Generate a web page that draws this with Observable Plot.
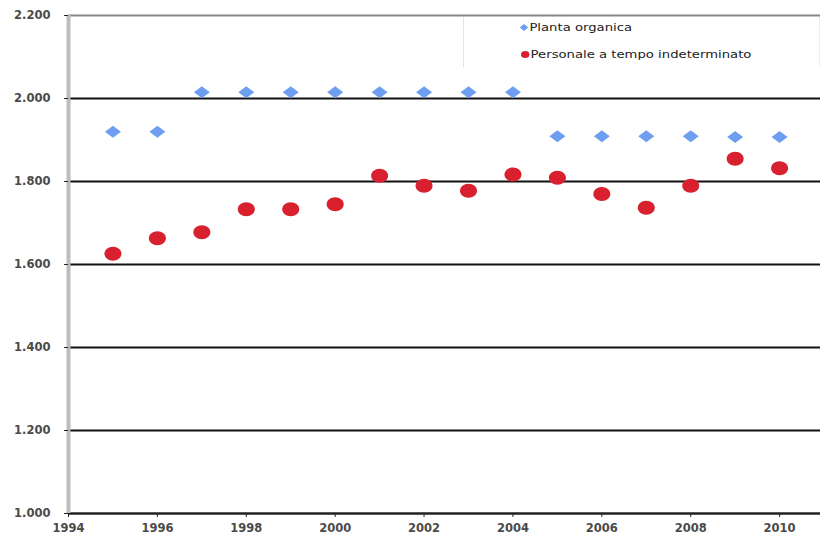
<!DOCTYPE html>
<html>
<head>
<meta charset="utf-8">
<script src="https://cdn.jsdelivr.net/npm/d3@7"></script>
<script src="https://cdn.jsdelivr.net/npm/@observablehq/plot@0.6"></script>
<style>
  html, body { margin: 0; padding: 0; background: #fff; }
  #wrap { position: relative; width: 820px; height: 539px; }
  #legend { position: absolute; left: 463px; top: 17px; width: 355px; height: 50px;
    border-left: 1px solid #e4e4e4; border-right: 1px solid #eeeeee;
    font-family: "DejaVu Sans", Verdana, sans-serif; font-size: 11px; color: #222; }
  .li { position: absolute; left: 57px; display: flex; align-items: center; transform: scaleX(1.2); transform-origin: left center; }
  .sw { display: inline-block; margin-right: 1px; }
</style>
</head>
<body>
<div id="wrap"></div>
<script>
const years = [1995,1996,1997,1998,1999,2000,2001,2002,2003,2004,2005,2006,2007,2008,2009,2010];
const piantaOrganica = [1920,1920,2015,2015,2015,2015,2015,2015,2015,2015,1909,1909,1909,1909,1907,1907];
const personale = [1626,1663,1678,1733,1733,1745,1814,1790,1778,1817,1809,1770,1737,1790,1855,1832];
const seriesNames = ["Planta organica", "Personale a tempo indeterminato"];
const seriesColors = ["#6d9ef0", "#d8202e"];
const yTicks = [1000,1200,1400,1600,1800,2000,2200];
const xTicks = [1994,1996,1998,2000,2002,2004,2006,2008,2010];

const fmtY = v => { const s = String(v); return s.length > 3 ? s.slice(0, s.length-3) + "." + s.slice(-3) : s; };

const flatDiamond = { draw(ctx, size) { const w = 8, h = 6; ctx.moveTo(0,-h); ctx.lineTo(w,0); ctx.lineTo(0,h); ctx.lineTo(-w,0); ctx.closePath(); } };
const ellipse = { draw(ctx, size) { const rx = 8.5, ry = 7; const k = 0.5523;
  ctx.moveTo(rx,0);
  ctx.bezierCurveTo(rx, ry*k, rx*k, ry, 0, ry);
  ctx.bezierCurveTo(-rx*k, ry, -rx, ry*k, -rx, 0);
  ctx.bezierCurveTo(-rx, -ry*k, -rx*k, -ry, 0, -ry);
  ctx.bezierCurveTo(rx*k, -ry, rx, -ry*k, rx, 0);
  ctx.closePath(); } };

const d1 = years.map((y,i) => ({year: y, value: piantaOrganica[i]}));
const d2 = years.map((y,i) => ({year: y, value: personale[i]}));

const chart = Plot.plot({
  width: 820, height: 539,
  marginLeft: 68, marginRight: 0, marginTop: 15, marginBottom: 26,
  style: { fontFamily: "'DejaVu Sans', Verdana, sans-serif", fontSize: "11.5px", color: "#444", background: "#fff" },
  x: { domain: [1994, 2010.92], ticks: xTicks, tickFormat: d => String(d), tickSize: 4, tickPadding: 6, label: null },
  y: { domain: [1000, 2200], ticks: yTicks, tickFormat: fmtY, tickSize: 4, tickPadding: 14, label: null },
  marks: [
    Plot.ruleY(yTicks.filter(v => v > 1000 && v < 2200), { stroke: "#111", strokeWidth: 2 }),
    Plot.ruleY([2200], { stroke: "#888", strokeWidth: 2 }),
    Plot.ruleY([1000], { stroke: "#222", strokeWidth: 2.5 }),
    Plot.ruleX([1994], { stroke: "#bdbdbd", strokeWidth: 4 }),
    Plot.axisX({ ticks: xTicks, tickFormat: d => String(d), tickSize: 4, tickPadding: 6, stroke: "#222", fontWeight: "bold", fill: "#4a4a4a" }),
    Plot.axisY({ ticks: yTicks, tickFormat: fmtY, tickSize: 4, tickPadding: 14, stroke: "#222", fontWeight: "bold", fill: "#4a4a4a" }),
    Plot.dot(d1, { x: "year", y: "value", symbol: () => flatDiamond, fill: seriesColors[0], stroke: "none", r: 6 }),
    Plot.dot(d2, { x: "year", y: "value", symbol: () => ellipse, fill: seriesColors[1], stroke: "none", r: 6 })
  ]
});

const wrap = document.getElementById("wrap");
wrap.appendChild(chart);

const legend = document.createElement("div");
legend.id = "legend";
seriesNames.forEach((name, i) => {
  const row = document.createElement("div");
  row.className = "li";
  row.style.top = (i === 0 ? 4 : 31) + "px";
  const sw = document.createElement("span");
  sw.className = "sw";
  if (i === 0) {
    sw.style.width = "5px"; sw.style.height = "5px"; sw.style.background = seriesColors[0];
    sw.style.transform = "rotate(45deg)"; sw.style.marginRight = "2px";
  } else {
    sw.style.width = "7px"; sw.style.height = "7px"; sw.style.background = seriesColors[1]; sw.style.borderRadius = "50%";
  }
  row.appendChild(sw);
  const t = document.createElement("span");
  t.textContent = name;
  row.appendChild(t);
  legend.appendChild(row);
});
wrap.appendChild(legend);
</script>
</body>
</html>
